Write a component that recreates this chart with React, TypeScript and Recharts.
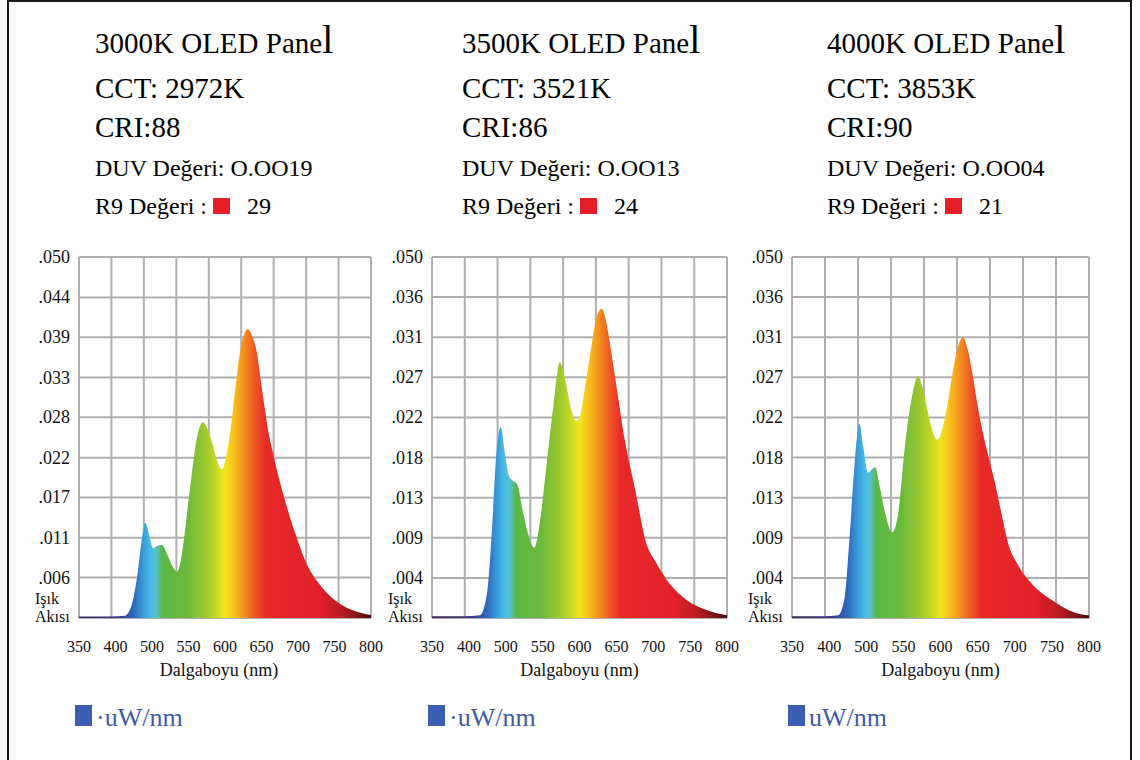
import { AreaChart, Area, XAxis, YAxis, CartesianGrid } from "recharts";

const FONT = '"Liberation Serif", "Times New Roman", serif';

// header texts
const TITLES = ["3000K OLED Panel", "3500K OLED Panel", "4000K OLED Panel"];
const CCT = ["CCT: 2972K", "CCT: 3521K", "CCT: 3853K"];
const CRI = ["CRI:88", "CRI:86", "CRI:90"];
const DUV = ["DUV Değeri: O.OO19", "DUV Değeri: O.OO13", "DUV Değeri: O.OO04"];
const R9 = ["29", "24", "21"];
const LEGEND = ["·uW/nm", "·uW/nm", "uW/nm"];

// spectra (nm, uW/nm)
const WL_3000 = [350, 400, 420, 430, 440, 447, 452, 458, 464, 471, 478, 486, 494, 501, 507, 513, 519, 524, 532, 541, 548, 555, 562, 570, 577, 583, 590, 597, 604, 610, 617, 624, 630, 636, 641, 648, 655, 667, 683, 703, 724, 744, 771, 800];
const FLUX_3000 = [0.0002, 0.0002, 0.0003, 0.0015, 0.006, 0.011, 0.0132, 0.0115, 0.0097, 0.01, 0.0101, 0.0088, 0.0072, 0.0064, 0.008, 0.0118, 0.0165, 0.0201, 0.0251, 0.0271, 0.0262, 0.0243, 0.022, 0.0206, 0.0225, 0.0257, 0.031, 0.0362, 0.0392, 0.04, 0.039, 0.0368, 0.033, 0.0292, 0.0262, 0.0232, 0.0205, 0.0164, 0.0118, 0.0071, 0.0043, 0.0025, 0.0011, 0.0004];

const WL_3500 = [350, 400, 423, 434, 443, 449, 455, 461, 467, 472, 480, 489, 498, 506, 515, 525, 535, 545, 550, 556, 563, 571, 577, 583, 590, 596, 602, 609, 615, 621, 632, 644, 660, 676, 692, 708, 739, 769, 800];
const FLUX_3500 = [0.0002, 0.0002, 0.0003, 0.0028, 0.0118, 0.0192, 0.0214, 0.0186, 0.016, 0.0155, 0.015, 0.0118, 0.0091, 0.0079, 0.011, 0.0174, 0.0237, 0.0287, 0.0278, 0.0257, 0.0232, 0.0221, 0.023, 0.0257, 0.029, 0.0318, 0.034, 0.0347, 0.0335, 0.031, 0.0257, 0.02, 0.0144, 0.0086, 0.0062, 0.0043, 0.002, 0.0009, 0.0003];

const WL_4000 = [350, 400, 420, 430, 438, 445, 452, 458, 465, 470, 476, 483, 491, 502, 511, 521, 532, 541, 548, 555, 562, 570, 577, 585, 597, 603, 609, 616, 623, 632, 640, 648, 658, 668, 677, 692, 708, 725, 744, 779, 800];
const FLUX_4000 = [0.0002, 0.0002, 0.0003, 0.0024, 0.0099, 0.0174, 0.0218, 0.0192, 0.0163, 0.0166, 0.0169, 0.0147, 0.0118, 0.0096, 0.0118, 0.0192, 0.0249, 0.0271, 0.0258, 0.0234, 0.0212, 0.02, 0.021, 0.0237, 0.029, 0.0308, 0.0315, 0.0302, 0.0276, 0.0235, 0.0205, 0.018, 0.015, 0.0115, 0.0085, 0.006, 0.0043, 0.003, 0.002, 0.0006, 0.0003];

const WAVELENGTHS = [WL_3000, WL_3500, WL_4000];
const FLUXES = [FLUX_3000, FLUX_3500, FLUX_4000];

// axes
const WL_GRID = [350, 400, 450, 500, 550, 600, 650, 700, 750, 800];
// the printed x labels are spread evenly over the plot, not on the grid lines
const X_LABEL_WL = [350, 406.25, 462.5, 518.75, 575, 631.25, 687.5, 743.75, 800];
const X_LABELS = ["350", "400", "500", "550", "600", "650", "700", "750", "800"];

const Y_TICKS_3000 = [0, 0.0056, 0.0111, 0.0167, 0.0222, 0.0278, 0.0333, 0.0389, 0.0444, 0.05];
const Y_LABELS_3000 = ["", ".006", ".011", ".017", ".022", ".028", ".033", ".039", ".044", ".050"];
const Y_TICKS_OTHER = [0, 0.0045, 0.009, 0.0135, 0.018, 0.0225, 0.027, 0.0315, 0.036, 0.0405];
const Y_LABELS_OTHER = ["", ".004", ".009", ".013", ".018", ".022", ".027", ".031", ".036", ".050"];
const Y_TICKS = [Y_TICKS_3000, Y_TICKS_OTHER, Y_TICKS_OTHER];
const Y_LABELS = [Y_LABELS_3000, Y_LABELS_OTHER, Y_LABELS_OTHER];

// layout
const PLOT_LEFT = [79, 432, 792];
const PLOT_WIDTH = [292, 295, 297];
const HEAD_LEFT = [95, 462, 827];
const CHART_TOP = 240;
const MARGIN_TOP = 17;
const MARGIN_RIGHT = 18;
const PLOT_HEIGHT = 361;
const PLOT_BOTTOM = MARGIN_TOP + PLOT_HEIGHT; // in chart coords

const SPECTRUM_STOPS: [number, string][] = [
  [0, "#3b2560"],
  [0.12, "#3a2f78"],
  [0.16, "#2f4fa8"],
  [0.19, "#2f6cc0"],
  [0.22, "#3a9ad8"],
  [0.245, "#45bde8"],
  [0.265, "#58c0c8"],
  [0.285, "#5bb847"],
  [0.37, "#6cba3a"],
  [0.44, "#a4cb2c"],
  [0.5, "#f1e51c"],
  [0.53, "#f8c11b"],
  [0.565, "#f4901f"],
  [0.6, "#ee5a25"],
  [0.64, "#e82a28"],
  [0.82, "#e3202a"],
  [0.9, "#b81c20"],
  [0.96, "#7a1414"],
  [1, "#4a0e10"],
];

const txt = (size: number) => ({ fontFamily: FONT, fontSize: size });

function YTick(props: any) {
  const { x, y, payload, labels, ticks } = props;
  const idx = ticks.indexOf(payload.value);
  if (idx === 0) {
    return (
      <text style={txt(16)} fill="#111">
        <tspan x={x - 35} y={y - 14}>Işık</tspan>
        <tspan x={x - 35} y={y + 4}>Akısı</tspan>
      </text>
    );
  }
  return (
    <text x={x} y={y + 6} textAnchor="end" style={txt(18)} fill="#111">
      {labels[idx]}
    </text>
  );
}

function XTick(props: any) {
  const { x, payload } = props;
  const idx = X_LABEL_WL.indexOf(payload.value);
  return (
    <text x={x} y={PLOT_BOTTOM + 34} textAnchor="middle" style={txt(16)} fill="#111">
      {X_LABELS[idx]}
    </text>
  );
}

function SpectrumPanel({ i }: { i: number }) {
  const rows = WAVELENGTHS[i].map((wl, k) => ({ wl, flux: FLUXES[i][k] }));
  const yTicks = Y_TICKS[i];
  const width = 50 + PLOT_WIDTH[i] + MARGIN_RIGHT;
  const height = PLOT_BOTTOM + 70;
  return (
    <div style={{ position: "absolute", left: PLOT_LEFT[i] - 50, top: CHART_TOP }}>
      <AreaChart
        width={width}
        height={height}
        data={rows}
        margin={{ top: MARGIN_TOP, right: MARGIN_RIGHT, bottom: 0, left: 0 }}
      >
        <defs>
          <linearGradient id={`spec${i}`} x1="0" y1="0" x2="1" y2="0">
            {SPECTRUM_STOPS.map(([o, c]) => (
              <stop key={o} offset={o} stopColor={c} />
            ))}
          </linearGradient>
        </defs>
        <CartesianGrid stroke="#b0b0b0" strokeWidth={2} />
        <XAxis dataKey="wl" type="number" domain={[350, 800]} ticks={WL_GRID} hide />
        <XAxis
          xAxisId="lbl"
          dataKey="wl"
          type="number"
          domain={[350, 800]}
          ticks={X_LABEL_WL}
          interval={0}
          height={70}
          axisLine={false}
          tickLine={false}
          tickSize={0}
          tickMargin={0}
          tick={(p: any) => <XTick {...p} />}
          label={() => (
            <text
              x={50 + PLOT_WIDTH[i] / 2 - (i === 0 ? 6 : 0)}
              y={PLOT_BOTTOM + 58}
              textAnchor="middle"
              style={txt(18)}
              fill="#111"
            >
              Dalgaboyu (nm)
            </text>
          )}
        />
        <YAxis
          type="number"
          domain={[0, yTicks[yTicks.length - 1]]}
          ticks={yTicks}
          interval={0}
          width={50}
          axisLine={false}
          tickLine={false}
          tickSize={0}
          tickMargin={9}
          tick={(p: any) => <YTick {...p} labels={Y_LABELS[i]} ticks={yTicks} />}
        />
        <Area
          dataKey="flux"
          type="monotone"
          stroke="none"
          fill={`url(#spec${i})`}
          fillOpacity={1}
          dot={false}
          activeDot={false}
          isAnimationActive={false}
        />
      </AreaChart>
    </div>
  );
}

export default function App() {
  return (
    <div style={{ position: "relative", width: 1140, height: 760, overflow: "hidden", background: "#fff" }}>
      <style>{`body{margin:0}`}</style>
      <div
        style={{
          position: "absolute",
          left: 7,
          top: 0,
          width: 1121,
          height: 800,
          border: "2.5px solid #1a1a1a",
        }}
      />
      <svg width={1140} height={240} style={{ position: "absolute", left: 0, top: 0 }}>
        {HEAD_LEFT.map((hx, i) => (
          <g key={i} fill="#000">
            <text x={hx} y={53} style={txt(29)}>
              {TITLES[i].slice(0, -1)}
              <tspan style={txt(40)}>{TITLES[i].slice(-1)}</tspan>
            </text>
            <text x={hx} y={98} style={txt(29)}>{CCT[i]}</text>
            <text x={hx} y={137} style={txt(29)}>{CRI[i]}</text>
            <text x={hx} y={176} style={txt(24)}>{DUV[i]}</text>
            <text x={hx} y={214} style={txt(24)}>R9 Değeri :</text>
            <rect x={hx + 118} y={198} width={17} height={16} fill="#e61e25" />
            <text x={hx + 152} y={214} style={txt(24)}>{R9[i]}</text>
          </g>
        ))}
      </svg>
      {[0, 1, 2].map((i) => (
        <SpectrumPanel key={i} i={i} />
      ))}
      {[0, 1, 2].map((i) => (
        <div
          key={`lg${i}`}
          style={{
            position: "absolute",
            left: PLOT_LEFT[i] - 4,
            top: 705,
            display: "flex",
            alignItems: "baseline",
          }}
        >
          <span style={{ display: "inline-block", width: 17, height: 21, background: "#3b5db4" }} />
          <span style={{ fontFamily: FONT, fontSize: 26, color: "#3f5ba8", marginLeft: 4, lineHeight: 1 }}>
            {LEGEND[i]}
          </span>
        </div>
      ))}
    </div>
  );
}
